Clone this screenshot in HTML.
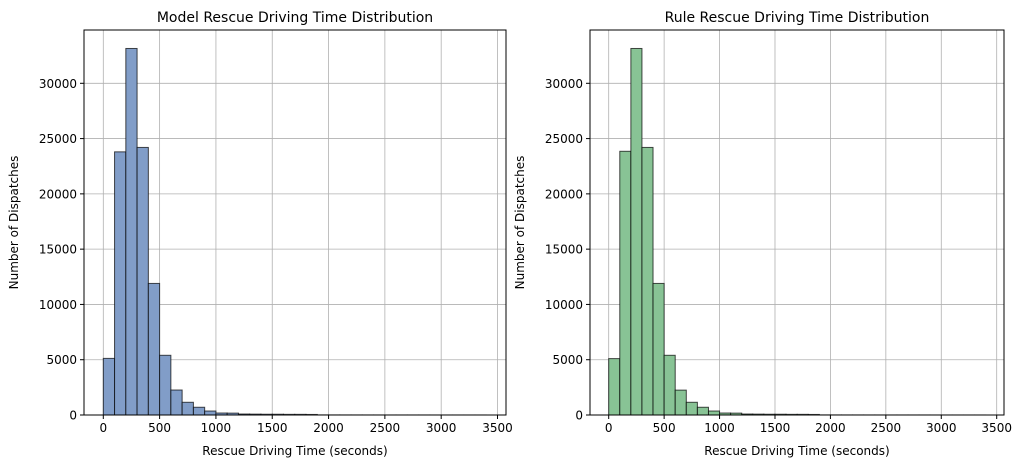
<!DOCTYPE html>
<html><head><meta charset="utf-8"><style>
body{margin:0;background:#fff;font-family:"Liberation Sans","DejaVu Sans",sans-serif;}
svg text{font-family:"DejaVu Sans","Liberation Sans",sans-serif;}
</style></head><body>
<svg id="c" width="1033" height="468" xmlns="http://www.w3.org/2000/svg"></svg>
<script>
const binEdgesStart = 0;
const binWidth = 100;
const modelCounts = [5120,23800,33150,24200,11900,5400,2260,1150,700,360,180,170,90,80,70,70,60,60,50,8,6,5,5,4,4,3,3,3,3,2,2,2,2,2];
const ruleCounts  = [5100,23850,33150,24200,11900,5400,2250,1150,700,360,180,170,90,80,70,70,60,60,50,8,6,5,5,4,4,3,3,3,3,2,2,2,2,2];
const xTicks = [0,500,1000,1500,2000,2500,3000,3500];
const yTicks = [0,5000,10000,15000,20000,25000,30000];
const titles = ["Model Rescue Driving Time Distribution","Rule Rescue Driving Time Distribution"];
const NS="http://www.w3.org/2000/svg";
const svg=document.getElementById('c');
function mk(tag,attrs,parent){const e=document.createElementNS(NS,tag);for(const k in attrs)e.setAttribute(k,attrs[k]);(parent||svg).appendChild(e);return e;}
const panels=[
 {L:84,R:506,T:30,B:415,x0:103.3,x3500:497.5,counts:modelCounts,fill:"#819dc8",name:"model"},
 {L:590,R:1004,T:30,B:415,x0:608.7,x3500:996.7,counts:ruleCounts,fill:"#88c395",name:"rule"}
];
panels.forEach((p,pi)=>{
 const g=mk('g',{});
 
 
 const xs=v=>p.x0+(v/3500)*(p.x3500-p.x0);
 const ys=v=>p.B-v*(331.7/30000);
 xTicks.forEach(t=>{const l=mk('line',{x1:xs(t),x2:xs(t),y1:p.T,y2:p.B,stroke:'#b0b0b0','stroke-width':0.8},g);
  });
 yTicks.forEach(t=>{const l=mk('line',{x1:p.L,x2:p.R,y1:ys(t),y2:ys(t),stroke:'#b0b0b0','stroke-width':0.8},g);
  });
 p.counts.forEach((c,i)=>{
  const a=binEdgesStart+i*binWidth,b=a+binWidth;
  const r=mk('rect',{x:xs(a),y:ys(c),width:xs(b)-xs(a),height:p.B-ys(c),fill:p.fill,stroke:'#000','stroke-opacity':0.7,'stroke-width':1},g);
  
 });
 const f=mk('rect',{x:p.L,y:p.T,width:p.R-p.L,height:p.B-p.T,fill:'none',stroke:'#000','stroke-width':1},g);
 
 xTicks.forEach(t=>{mk('line',{x1:xs(t),x2:xs(t),y1:p.B,y2:p.B+4,stroke:'#000'},g);
  const tx=mk('text',{x:xs(t),y:p.B+17,'font-size':12,'text-anchor':'middle',fill:'#000'},g);tx.textContent=t;
  });
 yTicks.forEach(t=>{mk('line',{x1:p.L-4,x2:p.L,y1:ys(t),y2:ys(t),stroke:'#000'},g);
  const tx=mk('text',{x:p.L-7,y:ys(t)+4.5,'font-size':12,'text-anchor':'end',fill:'#000'},g);tx.textContent=t;
  });
 const ti=mk('text',{x:(p.L+p.R)/2,y:22,'font-size':14,'text-anchor':'middle',fill:'#000'},g);ti.textContent=titles[pi];
 
 const xl=mk('text',{x:(p.L+p.R)/2,y:455,'font-size':12,'text-anchor':'middle',fill:'#000'},g);xl.textContent="Rescue Driving Time (seconds)";
 
 const yx=p.L-66,yy=(p.T+p.B)/2;
 const yl=mk('text',{x:yx,y:yy,'font-size':12,'text-anchor':'middle',fill:'#000',transform:`rotate(-90 ${yx} ${yy})`},g);yl.textContent="Number of Dispatches";
 
});
</script>
</body></html>
